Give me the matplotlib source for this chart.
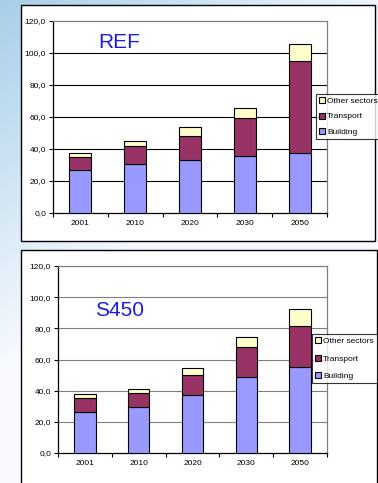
import numpy as np
import matplotlib
matplotlib.use("Agg")
import matplotlib.pyplot as plt
from matplotlib.patches import Rectangle
from matplotlib.ticker import FuncFormatter, FixedLocator

plt.rcParams['font.family'] = ['Liberation Sans', 'DejaVu Sans']

years = ["2001", "2010", "2020", "2030", "2050"]
series_names = ["Building", "Transport", "Other sectors"]
colors = ["#9999FF", "#993366", "#FFFFCC"]

# REF scenario (segment heights)
ref_building = [26.6, 30.9, 33.4, 35.8, 37.8]
ref_transport = [8.5, 10.8, 15.0, 23.3, 57.5]
ref_other = [2.1, 3.5, 5.2, 6.6, 10.5]

# S450 scenario (segment heights)
s450_building = [26.6, 29.4, 37.1, 48.6, 54.9]
s450_transport = [8.6, 8.8, 12.8, 19.6, 26.9]
s450_other = [2.5, 2.8, 4.5, 6.5, 10.6]

yticks = [0, 20, 40, 60, 80, 100, 120]

W, H = 378, 483
fig = plt.figure(figsize=(W / 100, H / 100), dpi=100)

# slide background gradient
bg = fig.add_axes([0, 0, 1, 1], zorder=-10)
gx = np.linspace(0, 1, 200)
gy = np.linspace(0, 1, 200)
GX, GY = np.meshgrid(gx, gy)
t = np.clip(0.9 * GX + 1.3 * GY, 0, 1)
c0 = np.array([0.66, 0.81, 0.91])
c1 = np.array([0.97, 0.98, 1.0])
img = c0[None, None, :] * (1 - t[..., None]) + c1[None, None, :] * t[..., None]
bg.imshow(img, extent=[0, 1, 0, 1], aspect='auto', origin='upper')
bg.set_xlim(0, 1)
bg.set_ylim(0, 1)
bg.axis('off')

def px_rect(x0, y0, x1, y1):
    return Rectangle((x0 / W, 1 - y1 / H), (x1 - x0) / W, (y1 - y0) / H,
                     transform=fig.transFigure, facecolor='white',
                     edgecolor='black', linewidth=1.0, zorder=-5)

fig.patches.append(px_rect(21, 5, 375, 241))
fig.patches.append(px_rect(21, 250, 377, 490))


def make_panel(rect, b, t_, o, label, label_pos, grid_color, legend_anchor, spacing):
    ax = fig.add_axes(rect)
    x = np.arange(len(years))
    width = 0.40
    kw = dict(width=width, edgecolor='black', linewidth=0.8, zorder=3)
    b1 = ax.bar(x, b, color=colors[0], label=series_names[0], **kw)
    b2 = ax.bar(x, t_, bottom=b, color=colors[1], label=series_names[1], **kw)
    bottom2 = np.array(b) + np.array(t_)
    b3 = ax.bar(x, o, bottom=bottom2, color=colors[2], label=series_names[2], **kw)
    ax.set_xlim(-0.5, len(years) - 0.5)
    ax.set_ylim(0, 120)
    ax.set_yticks(yticks)
    ax.yaxis.set_major_formatter(FuncFormatter(lambda v, p: f"{v:.1f}".replace('.', ',')))
    ax.set_xticks(x)
    ax.set_xticklabels(years)
    ax.xaxis.set_minor_locator(FixedLocator(np.arange(-0.5, len(years), 1.0)))
    ax.tick_params(axis='x', which='major', length=0, labelsize=6, pad=5)
    ax.tick_params(axis='x', which='minor', length=3, width=0.8, direction='out')
    ax.tick_params(axis='y', which='major', length=3, width=0.8, labelsize=6, pad=2)
    for yv in yticks[1:-1]:
        ax.axhline(yv, color=grid_color, linewidth=0.8, zorder=1)
    ax.spines['left'].set_color('black')
    ax.spines['bottom'].set_color('black')
    ax.spines['left'].set_linewidth(0.9)
    ax.spines['bottom'].set_linewidth(0.9)
    ax.spines['top'].set_color('#808080')
    ax.spines['right'].set_color('#808080')
    ax.spines['top'].set_linewidth(0.9)
    ax.spines['right'].set_linewidth(0.9)
    ax.set_facecolor('white')
    ax.text(label_pos[0], label_pos[1], label, transform=ax.transAxes,
            fontsize=15, color='#1a1af0', va='center', ha='left')
    leg = fig.legend([b3, b2, b1], [series_names[2], series_names[1], series_names[0]],
                     loc='upper left', bbox_to_anchor=legend_anchor,
                     bbox_transform=fig.transFigure, fontsize=6.0,
                     frameon=True, fancybox=False, edgecolor='black',
                     handlelength=0.7, handleheight=0.7, handletextpad=0.25,
                     borderpad=0.4, labelspacing=spacing, borderaxespad=0)
    leg.get_frame().set_linewidth(0.8)
    return ax

make_panel([53 / W, 1 - 213 / H, 274 / W, 192 / H],
           ref_building, ref_transport, ref_other, "REF", (0.164, 0.89),
           'black', (316 / W, 1 - 94 / H), 0.9)
make_panel([58 / W, 1 - 453 / H, 269 / W, 187 / H],
           s450_building, s450_transport, s450_other, "S450", (0.1375, 0.76),
           '#808080', (312 / W, 1 - 334 / H), 1.15)

fig.savefig("out.png", dpi=100)
